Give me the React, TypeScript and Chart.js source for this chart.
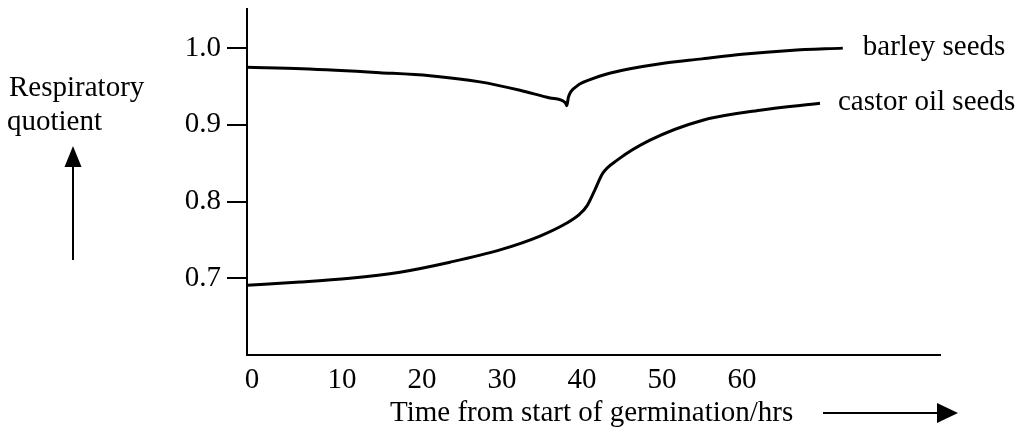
import React, { useEffect, useRef } from "react";
import { Chart, registerables } from "chart.js";

Chart.register(...registerables);

// ---- data ----
const barleyX = [-1.875, 5, 14.75, 21, 27.25, 32.25, 36, 37.9, 38.1, 38.3, 39.3, 41, 43, 46, 50, 55, 60, 66, 72.6];
const barleyY = [0.975, 0.973, 0.968, 0.964, 0.956, 0.945, 0.935, 0.929, 0.925, 0.936, 0.95, 0.959, 0.966, 0.973, 0.98, 0.986, 0.992, 0.997, 1.0];

const castorX = [-1.875, 4.75, 11, 17.25, 23.5, 29.75, 34.75, 38.1, 39.75, 40.6, 41.6, 42.6, 44.4, 48.5, 55.1, 62.25, 69.75];
const castorY = [0.691, 0.695, 0.7, 0.708, 0.721, 0.737, 0.755, 0.772, 0.784, 0.794, 0.815, 0.837, 0.854, 0.88, 0.906, 0.919, 0.928];

const seriesNames = ["barley seeds", "castor oil seeds"];

const xTickValues = [-1.25, 10, 20, 30, 40, 50, 60];
const xTickLabels = ["0", "10", "20", "30", "40", "50", "60"];
const yTickValues = [0.7, 0.8, 0.9, 1.0];

const xTitle = "Time from start of germination/hrs";
const yTitleLines = ["Respiratory", "quotient"];

const FONT_FAMILY = "'Liberation Serif', 'Times New Roman', serif";
const FONT_SIZE = 29;

const annotations = {
  id: "annotations",
  afterDraw(chart: any) {
    const ctx = chart.ctx as CanvasRenderingContext2D;
    ctx.save();
    ctx.fillStyle = "#000";
    ctx.strokeStyle = "#000";
    ctx.font = `${FONT_SIZE}px ${FONT_FAMILY}`;
    ctx.textAlign = "left";
    ctx.textBaseline = "alphabetic";

    // series labels next to line ends
    const offsets = [20, 18];
    chart.data.datasets.forEach((ds: any, i: number) => {
      const meta = chart.getDatasetMeta(i);
      const last = meta.data[meta.data.length - 1];
      ctx.fillText(seriesNames[i], last.x + offsets[i], last.y + 7);
    });

    // y title
    ctx.fillText(yTitleLines[0], 9, 96);
    ctx.fillText(yTitleLines[1], 7, 130);

    // up arrow
    ctx.lineWidth = 2;
    ctx.beginPath();
    ctx.moveTo(73, 260);
    ctx.lineTo(73, 164);
    ctx.stroke();
    ctx.beginPath();
    ctx.moveTo(73, 146);
    ctx.lineTo(64.5, 167);
    ctx.lineTo(81.5, 167);
    ctx.closePath();
    ctx.fill();

    // x title
    ctx.fillText(xTitle, 390, 421);

    // right arrow
    ctx.beginPath();
    ctx.moveTo(823, 413);
    ctx.lineTo(940, 413);
    ctx.stroke();
    ctx.beginPath();
    ctx.moveTo(958, 413);
    ctx.lineTo(937, 403);
    ctx.lineTo(937, 423);
    ctx.closePath();
    ctx.fill();

    ctx.restore();
  },
};

export default function App() {
  const ref = useRef<HTMLCanvasElement | null>(null);

  useEffect(() => {
    if (!ref.current) return;
    const font = { family: FONT_FAMILY, size: FONT_SIZE };
    const chart = new Chart(ref.current, {
      type: "line",
      data: {
        datasets: [
          {
            label: seriesNames[0],
            data: barleyX.map((x, i) => ({ x, y: barleyY[i] })),
            borderColor: "#000",
            borderWidth: 3,
            pointRadius: 0,
            cubicInterpolationMode: "monotone",
            fill: false,
          },
          {
            label: seriesNames[1],
            data: castorX.map((x, i) => ({ x, y: castorY[i] })),
            borderColor: "#000",
            borderWidth: 3,
            pointRadius: 0,
            cubicInterpolationMode: "monotone",
            fill: false,
          },
        ],
      },
      options: {
        responsive: false,
        animation: false,
        events: [],
        layout: { padding: { left: 0, right: 90, top: 9, bottom: 0 } },
        plugins: { legend: { display: false }, tooltip: { enabled: false } },
        scales: {
          x: {
            type: "linear",
            min: -1.875,
            max: 84.75,
            afterBuildTicks: (s: any) => {
              s.ticks = xTickValues.map((value) => ({ value }));
            },
            afterFit: (s: any) => {
              s.height = 78;
              s.paddingLeft = 0;
              s.paddingRight = 0;
            },
            ticks: {
              callback: (_v: any, i: number) => xTickLabels[i],
              font,
              color: "#000",
              padding: 8,
              maxRotation: 0,
              autoSkip: false,
            },
            grid: { display: true, drawOnChartArea: false, drawTicks: false },
            border: { display: true, color: "#000", width: 2 },
          },
          y: {
            type: "linear",
            min: 0.6,
            max: 1.051,
            afterBuildTicks: (s: any) => {
              s.ticks = yTickValues.map((value) => ({ value }));
            },
            afterFit: (s: any) => {
              s.width = 247;
              s.paddingTop = 0;
              s.paddingBottom = 0;
            },
            ticks: {
              callback: (v: any) => Number(v).toFixed(1),
              font,
              color: "#000",
              padding: 6,
              autoSkip: false,
            },
            grid: {
              display: true,
              drawOnChartArea: false,
              drawTicks: true,
              tickLength: 20,
              color: "#000",
              lineWidth: 2,
            },
            border: { display: true, color: "#000", width: 2 },
          },
        },
      },
      plugins: [annotations],
    } as any);
    return () => chart.destroy();
  }, []);

  return (
    <div style={{ position: "absolute", left: 0, top: 0, width: 1030, height: 433, background: "#fff" }}>
      <canvas ref={ref} width={1030} height={433} style={{ display: "block" }} />
    </div>
  );
}
